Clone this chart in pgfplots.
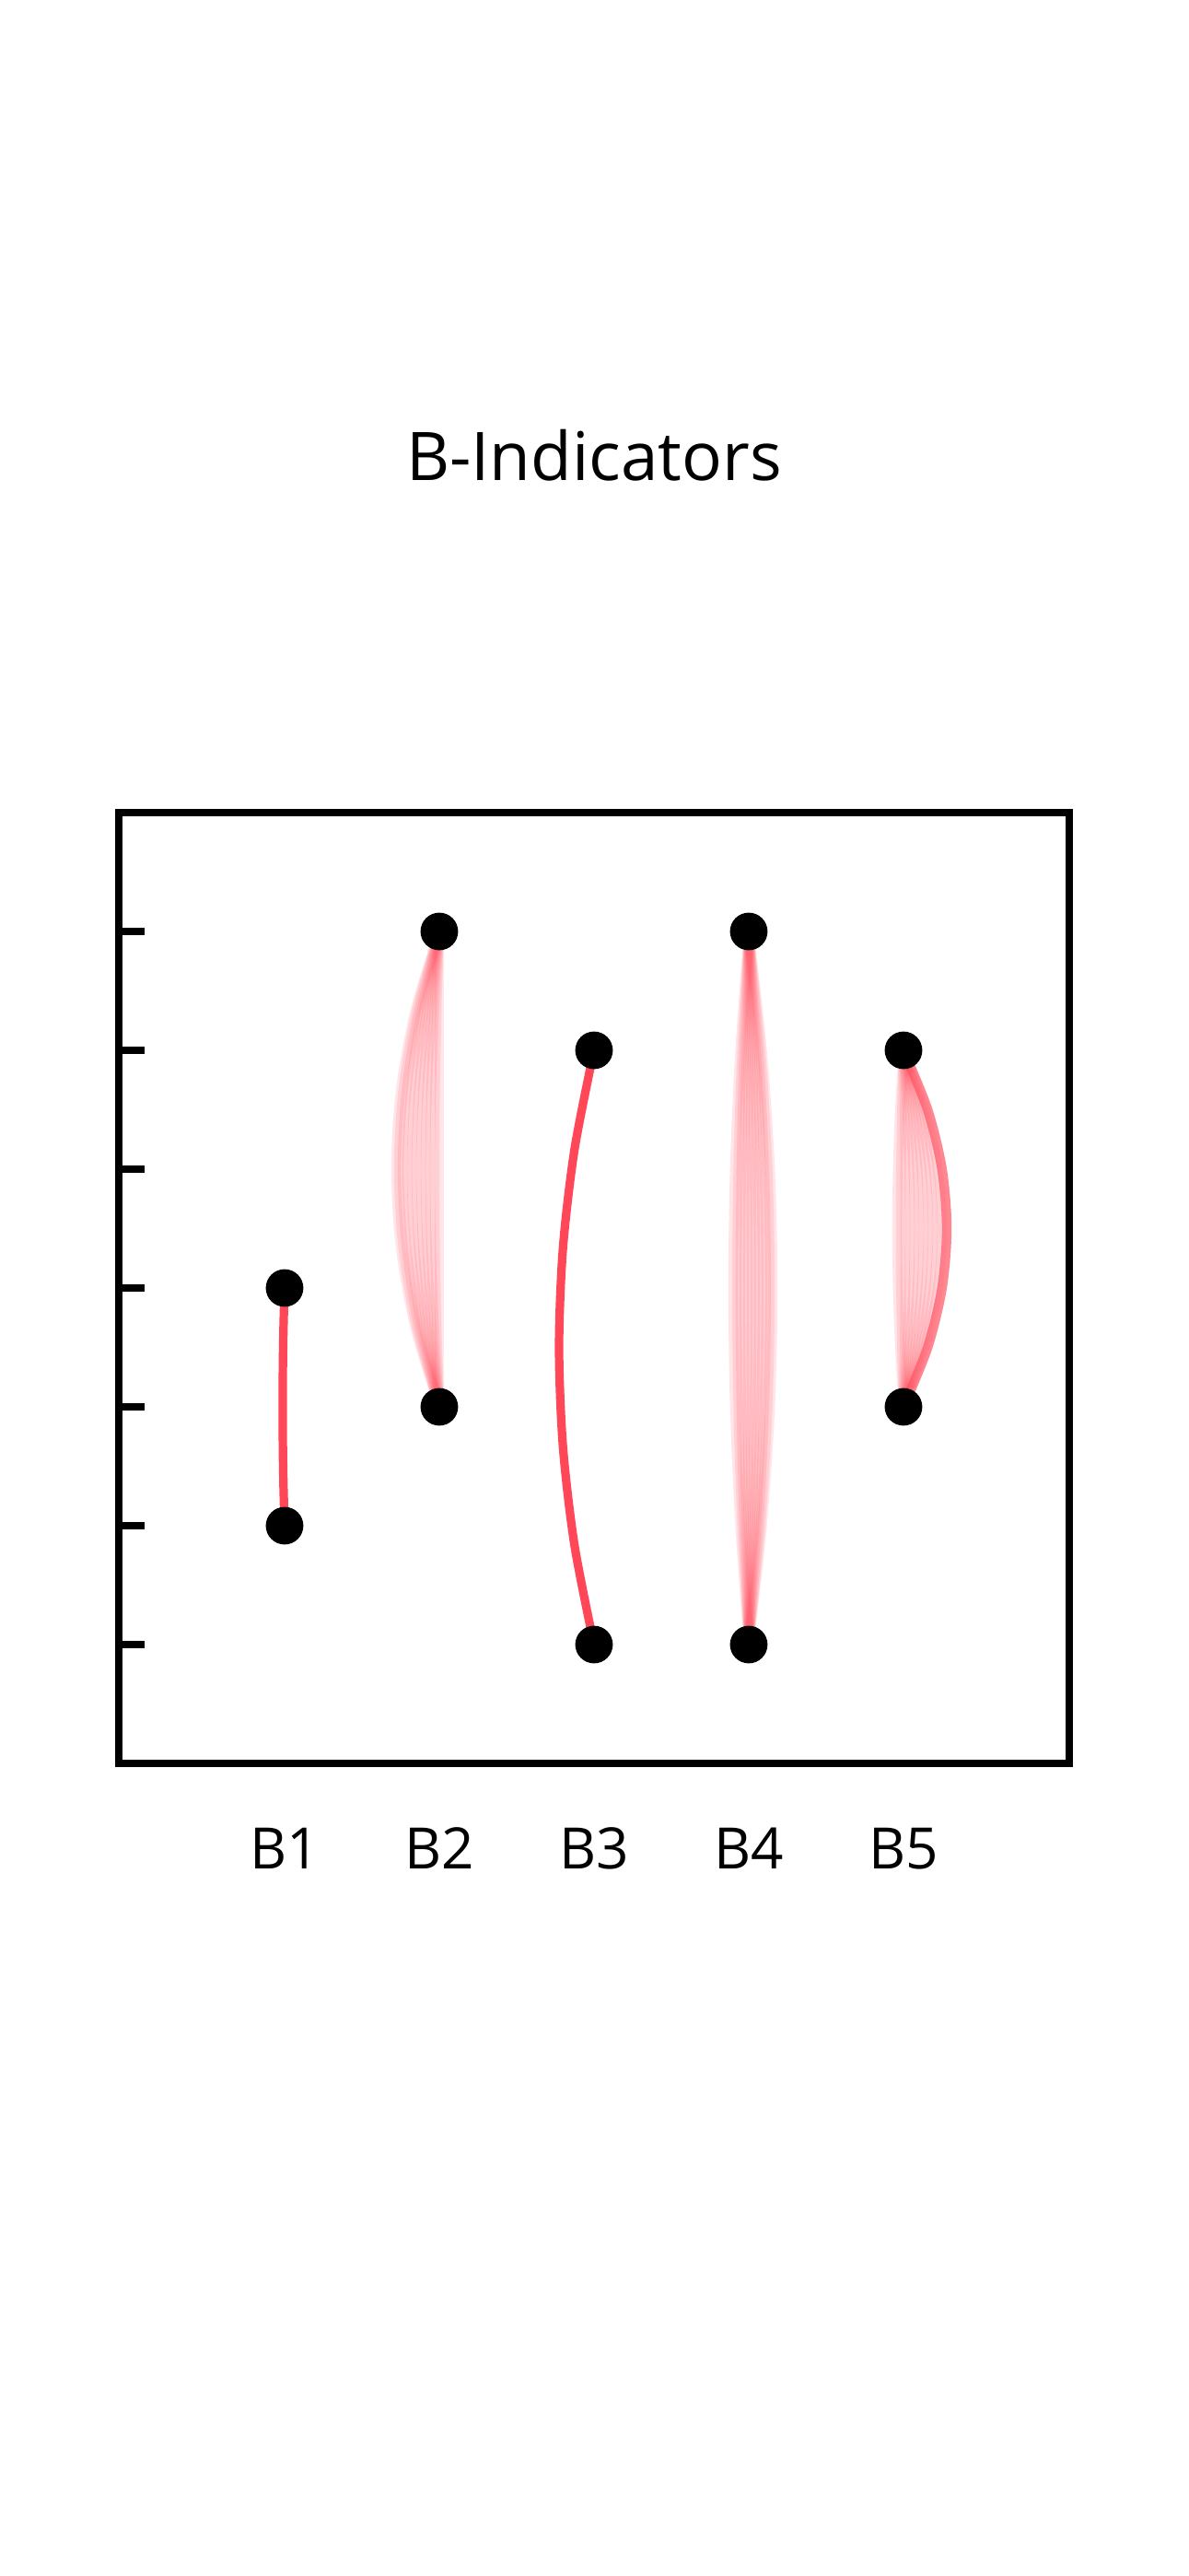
\documentclass[border=0pt]{standalone}
\usepackage{pgfplots}
\pgfplotsset{compat=1.18}
\usepackage{fontspec}
\setmainfont{Open Sans}
\definecolor{lred}{RGB}{255,71,87}
\pgfplotsset{
  solidc/.style={smooth, lred, line width=2.3pt},
  faint/.style={smooth, lred, line width=2.6pt, opacity=0.14},
}
\begin{document}
\begin{tikzpicture}
\path[use as bounding box] (-32.25pt,-220.5pt) rectangle (290.25pt,478.5pt);
\begin{axis}[
  at={(0pt,0pt)}, anchor=south west,
  scale only axis, width=258pt, height=258pt,
  xmin=-0.0714, xmax=6.0714, ymin=0, ymax=8,
  axis line style={line width=2.2pt, black},
  xtick={1,2,3,4,5}, xticklabels={B1,B2,B3,B4,B5},
  ytick={1,2,3,4,5,6,7}, yticklabels={},
  xtick pos=bottom, ytick pos=left,
  tick align=inside,
  major tick length=7pt,
  x tick style={draw=none},
  y tick style={line width=2.2pt, black},
  xticklabel style={font=\fontsize{15.5}{18}\selectfont, anchor=base, yshift=-28.5pt, inner sep=0pt},
  clip=false,
]
% B1
\addplot[solidc] coordinates {(1,4) (0.993,3.667) (0.989,3.333) (0.988,3) (0.989,2.667) (0.993,2.333) (1,2)};
% B2 bundle
\addplot[faint] coordinates {(2,7) (2,6.333) (2,5.667) (2,5) (2,4.333) (2,3.667) (2,3)};
\addplot[faint] coordinates {(2,7) (1.983,6.333) (1.973,5.667) (1.970,5) (1.973,4.333) (1.983,3.667) (2,3)};
\addplot[faint] coordinates {(2,7) (1.967,6.333) (1.947,5.667) (1.940,5) (1.947,4.333) (1.967,3.667) (2,3)};
\addplot[faint] coordinates {(2,7) (1.951,6.333) (1.921,5.667) (1.911,5) (1.921,4.333) (1.951,3.667) (2,3)};
\addplot[faint] coordinates {(2,7) (1.934,6.333) (1.894,5.667) (1.881,5) (1.894,4.333) (1.934,3.667) (2,3)};
\addplot[faint] coordinates {(2,7) (1.917,6.333) (1.868,5.667) (1.851,5) (1.868,4.333) (1.917,3.667) (2,3)};
\addplot[faint] coordinates {(2,7) (1.900,6.333) (1.841,5.667) (1.821,5) (1.841,4.333) (1.900,3.667) (2,3)};
\addplot[faint] coordinates {(2,7) (1.884,6.333) (1.815,5.667) (1.792,5) (1.815,4.333) (1.884,3.667) (2,3)};
\addplot[faint] coordinates {(2,7) (1.868,6.333) (1.788,5.667) (1.762,5) (1.788,4.333) (1.868,3.667) (2,3)};
\addplot[faint] coordinates {(2,7) (1.854,6.333) (1.767,5.667) (1.738,5) (1.767,4.333) (1.854,3.667) (2,3)};
\addplot[faint] coordinates {(2,7) (1.844,6.333) (1.751,5.667) (1.720,5) (1.751,4.333) (1.844,3.667) (2,3)};
% B3
\addplot[solidc] coordinates {(3,6) (2.874,5.167) (2.799,4.333) (2.774,3.5) (2.799,2.667) (2.874,1.833) (3,1)};
% B4 bundle
\addplot[faint] coordinates {(4,7) (3.944,6) (3.910,5) (3.899,4) (3.910,3) (3.944,2) (4,1)};
\addplot[faint] coordinates {(4,7) (3.957,6) (3.932,5) (3.923,4) (3.932,3) (3.957,2) (4,1)};
\addplot[faint] coordinates {(4,7) (3.970,6) (3.952,5) (3.946,4) (3.952,3) (3.970,2) (4,1)};
\addplot[faint] coordinates {(4,7) (3.983,6) (3.973,5) (3.970,4) (3.973,3) (3.983,2) (4,1)};
\addplot[faint] coordinates {(4,7) (3.997,6) (3.995,5) (3.994,4) (3.995,3) (3.997,2) (4,1)};
\addplot[faint] coordinates {(4,7) (4.010,6) (4.016,5) (4.018,4) (4.016,3) (4.010,2) (4,1)};
\addplot[faint] coordinates {(4,7) (4.023,6) (4.037,5) (4.042,4) (4.037,3) (4.023,2) (4,1)};
\addplot[faint] coordinates {(4,7) (4.036,6) (4.058,5) (4.065,4) (4.058,3) (4.036,2) (4,1)};
\addplot[faint] coordinates {(4,7) (4.049,6) (4.079,5) (4.089,4) (4.079,3) (4.049,2) (4,1)};
\addplot[faint] coordinates {(4,7) (4.063,6) (4.100,5) (4.113,4) (4.100,3) (4.063,2) (4,1)};
\addplot[faint] coordinates {(4,7) (4.076,6) (4.122,5) (4.137,4) (4.122,3) (4.076,2) (4,1)};
\addplot[faint] coordinates {(4,7) (4.086,6) (4.138,5) (4.155,4) (4.138,3) (4.086,2) (4,1)};
% B5 bundle
\addplot[faint] coordinates {(5,6) (4.977,5.5) (4.963,5) (4.958,4.5) (4.963,4) (4.977,3.5) (5,3)};
\addplot[faint] coordinates {(5,6) (4.990,5.5) (4.984,5) (4.982,4.5) (4.984,4) (4.990,3.5) (5,3)};
\addplot[faint] coordinates {(5,6) (5.007,5.5) (5.011,5) (5.012,4.5) (5.011,4) (5.007,3.5) (5,3)};
\addplot[faint] coordinates {(5,6) (5.023,5.5) (5.037,5) (5.042,4.5) (5.037,4) (5.023,3.5) (5,3)};
\addplot[faint] coordinates {(5,6) (5.039,5.5) (5.063,5) (5.071,4.5) (5.063,4) (5.039,3.5) (5,3)};
\addplot[faint] coordinates {(5,6) (5.056,5.5) (5.090,5) (5.101,4.5) (5.090,4) (5.056,3.5) (5,3)};
\addplot[faint] coordinates {(5,6) (5.073,5.5) (5.116,5) (5.131,4.5) (5.116,4) (5.073,3.5) (5,3)};
\addplot[faint] coordinates {(5,6) (5.090,5.5) (5.143,5) (5.161,4.5) (5.143,4) (5.090,3.5) (5,3)};
\addplot[faint] coordinates {(5,6) (5.106,5.5) (5.169,5) (5.190,4.5) (5.169,4) (5.106,3.5) (5,3)};
\addplot[faint] coordinates {(5,6) (5.122,5.5) (5.196,5) (5.220,4.5) (5.196,4) (5.122,3.5) (5,3)};
\addplot[faint] coordinates {(5,6) (5.139,5.5) (5.222,5) (5.250,4.5) (5.222,4) (5.139,3.5) (5,3)};
\addplot[smooth, lred, line width=2.6pt, opacity=0.65] coordinates {(5,6) (5.156,5.5) (5.249,5) (5.280,4.5) (5.249,4) (5.156,3.5) (5,3)};
% dots
\addplot[only marks, mark=*, mark size=4.9pt, black] coordinates {(1,4) (1,2) (2,7) (2,3) (3,6) (3,1) (4,7) (4,1) (5,6) (5,3)};
\node[anchor=base, font=\fontsize{18.2}{22}\selectfont, inner sep=0pt] at (rel axis cs:0.5,1) [yshift=90.25pt] {B-Indicators};
\end{axis}
\end{tikzpicture}
\end{document}
